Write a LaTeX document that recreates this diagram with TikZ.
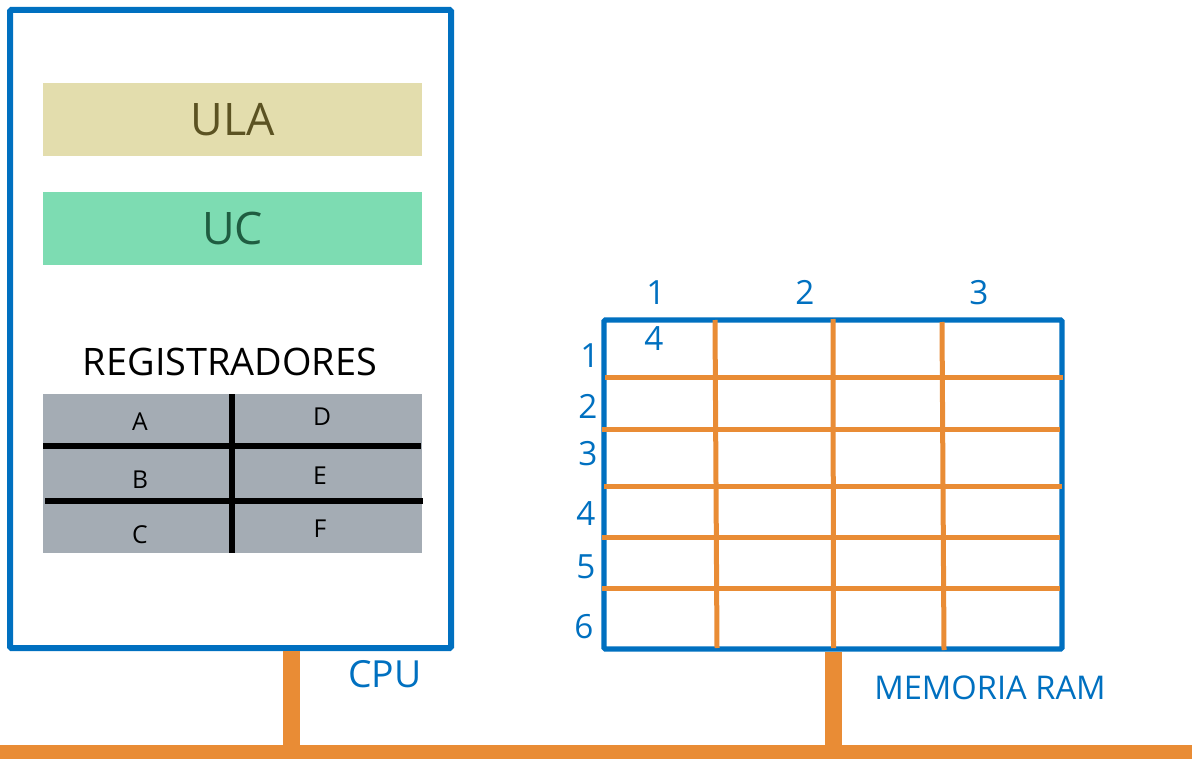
\documentclass[tikz,border=0pt]{standalone}
\usepackage{fontspec}
\setmainfont{Open Sans}
\definecolor{myblue}{HTML}{0070C0}
\definecolor{myorange}{HTML}{E98C35}
\definecolor{ulafill}{HTML}{E3DDAD}
\definecolor{ulatext}{HTML}{5B5222}
\definecolor{ucfill}{HTML}{7DDCB2}
\definecolor{uctext}{HTML}{1F5D41}
\definecolor{reggray}{HTML}{A4ACB4}
\begin{document}
\begin{tikzpicture}[x=0.75pt,y=-0.75pt,
  box/.style={inner sep=0pt, outer sep=0pt},
  bluebox/.style={box, draw=myblue, line width=4.5pt, rounded corners=1pt},
  orangeline/.style={draw=myorange, line width=3.75pt},
  stem/.style={draw=myorange, line width=12.75pt},
  regline/.style={draw=black, line width=4.1pt},
  bluetext/.style={text=myblue, inner sep=0pt, anchor=base, font=\fontsize{25}{30}\selectfont},
  regtext/.style={text=black, inner sep=0pt, anchor=base, font=\fontsize{18.5}{22}\selectfont}]
\useasboundingbox (0,0) rectangle (1192,759);

% CPU box
\node[bluebox, minimum width=441*0.75pt, minimum height=638*0.75pt] (cpu) at (230.5,329) {};
\node[box, fill=ulafill, text=ulatext, minimum width=379*0.75pt, minimum height=73*0.75pt, font=\fontsize{33.6}{40}\selectfont] (ula) at (232.5,119.5) {ULA};
\node[box, fill=ucfill, text=uctext, minimum width=379*0.75pt, minimum height=73*0.75pt, font=\fontsize{33.6}{40}\selectfont] (uc) at (232.5,228.5) {UC};
\node[inner sep=0pt, anchor=base, font=\fontsize{28.4}{34}\selectfont] (regtitle) at (230,375) {REGISTRADORES};

% registers
\node[box, fill=reggray, minimum width=379*0.75pt, minimum height=159*0.75pt] (regs) at (232.5,473.5) {};
\draw[regline] (232,394) -- (232,553);
\draw[regline] (43,446) -- (421,446);
\draw[regline] (45,501) -- (423,501);
\node[regtext] (ra) at (140,430) {A};
\node[regtext] (rd) at (322,425) {D};
\node[regtext] (rb) at (140,488) {B};
\node[regtext] (re) at (320,484) {E};
\node[regtext] (rc) at (140,543) {C};
\node[regtext] (rf) at (320,537) {F};

\node[bluetext, font=\fontsize{28}{34}\selectfont] (cpulabel) at (385,687) {CPU};

% RAM
\node[bluebox, line width=3.9pt, minimum width=458*0.75pt, minimum height=329*0.75pt] (ram) at (833,484.5) {};
\draw[orangeline] (605,377) -- (1063,377);
\draw[orangeline] (602,429) -- (1060,429);
\draw[orangeline] (604,486) -- (1062,486);
\draw[orangeline] (602,537) -- (1060,537);
\draw[orangeline] (602,588) -- (1060,588);
\draw[orangeline] (715,320) -- (717,648);
\draw[orangeline] (833,319) -- (833.5,648);
\draw[orangeline] (942,322) -- (944,650);

\node[bluetext] (c1) at (656,305) {1};
\node[bluetext] (c2) at (805,305) {2};
\node[bluetext] (c3) at (979,305) {3};
\node[bluetext] (c4) at (654,350) {4};
\node[bluetext] (r1) at (590,367) {1};
\node[bluetext] (r2) at (588,418) {2};
\node[bluetext] (r3) at (588,465) {3};
\node[bluetext] (r4) at (586,525) {4};
\node[bluetext] (r5) at (586,578) {5};
\node[bluetext] (r6) at (584,638) {6};

\node[bluetext, font=\fontsize{24.5}{30}\selectfont] (ramlabel) at (990,699) {MEMORIA RAM};

% bus
\node[box, fill=myorange, minimum width=1192*0.75pt, minimum height=14*0.75pt] (bus) at (596,752) {};
\coordinate (cpustem) at (291,651);
\coordinate (ramstem) at (833.5,652);
\draw[stem] (cpustem) -- (cpustem |- bus.north);
\draw[stem] (ramstem) -- (ramstem |- bus.north);
\end{tikzpicture}
\end{document}
